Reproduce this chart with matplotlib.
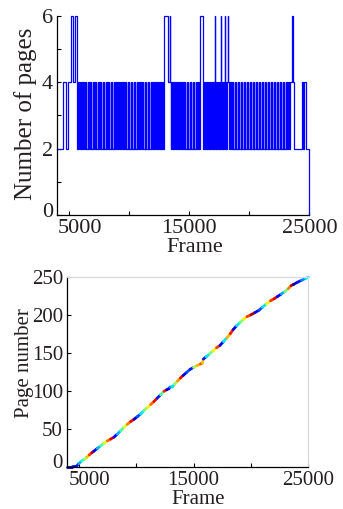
import numpy as np
import matplotlib
matplotlib.use('Agg')
import matplotlib.pyplot as plt
from matplotlib.collections import LineCollection
from matplotlib.transforms import ScaledTranslation

plt.rcParams['font.family'] = ['Liberation Serif', 'DejaVu Serif']
TXT = '#231f20'

# ---- 上段: 表示ページ数 (基準は2ページ) ----
# 4ページになる区間 (開始フレーム, 終了フレーム)
pulse4_start = [4525, 4940,
                5730, 5850, 6010, 6120, 6290, 6400, 6570, 6690, 6850, 6960,
                7120, 7260, 7390, 7540, 7660, 7820, 7930, 8080, 8200, 8330,
                8470, 8580, 8720, 8850, 8980, 9100, 9240, 9360, 9500, 9620,
                9750, 9880, 10000, 10140, 10260, 10390, 10510, 10650, 10770,
                10900, 11030, 11150, 11290, 11410, 11540, 11660, 11800, 11920,
                12050, 12180, 12300, 12430, 12560, 12690, 12830,
                13220,
                13520, 13640, 13770, 13890, 14020, 14150, 14270, 14400, 14520,
                14650, 14780, 14900, 15030, 15160, 15280, 15410, 15540, 15670,
                15800,
                16230, 16350, 16470, 16600, 16720, 16850, 16960, 17090, 17220,
                17340, 17470, 17590, 17720, 17830, 17910, 18050, 18170, 18310,
                18420, 18550, 18660, 18790, 18900, 19040, 19160, 19280, 19410,
                19530, 19660, 19780, 19910, 20030, 20160, 20280, 20410, 20540,
                20650, 20790, 20910, 21030, 21160, 21290, 21400, 21540, 21660,
                21780, 21910, 22040, 22150, 22290, 22410, 22530, 22660, 22790,
                22900, 23040, 23160, 23290, 23420,
                24410, 24560]
pulse4_end = [4750, 5640,
              5755, 5880, 6035, 6150, 6310, 6430, 6595, 6715, 6870, 6990,
              7140, 7290, 7410, 7570, 7680, 7850, 7955, 8110, 8220, 8360,
              8490, 8610, 8740, 8880, 9000, 9130, 9260, 9390, 9520, 9650,
              9770, 9910, 10020, 10170, 10280, 10420, 10530, 10680, 10790,
              10930, 11050, 11180, 11310, 11440, 11560, 11690, 11820, 11950,
              12070, 12210, 12320, 12460, 12580, 12720, 12860,
              13470,
              13540, 13670, 13790, 13920, 14040, 14180, 14290, 14430, 14540,
              14680, 14800, 14930, 15050, 15190, 15300, 15440, 15560, 15700,
              15830,
              16250, 16380, 16490, 16630, 16740, 16880, 16980, 17180, 17240,
              17370, 17490, 17680, 17740, 17850, 18000, 18080, 18280, 18340,
              18440, 18580, 18680, 18820, 18920, 19070, 19180, 19310, 19430,
              19560, 19680, 19810, 19930, 20060, 20180, 20310, 20430, 20570,
              20670, 20820, 20930, 21060, 21180, 21320, 21420, 21570, 21680,
              21810, 21930, 22070, 22170, 22320, 22430, 22560, 22680, 22820,
              22920, 23070, 23180, 23320, 23740,
              24470, 24740]
# 6ページになる区間
pulse6_start = [5170, 5475, 12940, 13400, 15940, 17110, 17610, 17940, 18220, 23560]
pulse6_end = [5310, 5640, 13220, 13440, 16130, 17140, 17640, 17970, 18250, 23630]
first_frame = 4000
last_frame = 25000

# ---- 下段: ページ番号の推移 (フレーム, ページ, 色値) ----
track_frame = [4000, 4450, 4800, 5000, 5250, 5500, 5700, 5920, 6150, 6320,
               6610, 6900, 7200, 7490, 7780, 8070, 8360, 8650, 8940, 9230,
               9520, 9810, 10100, 10390, 10680, 10970, 11260, 11550, 11840,
               12130, 12420, 12650, 12850, 12950, 13150, 13350, 13600, 13850,
               14100, 14400, 14700, 15000, 15300, 15600, 15780, 15850, 16100,
               16400, 16700, 17000, 17300, 17600, 17900, 18200, 18450, 18750,
               19050, 19350, 19650, 20000, 20350, 20700, 21000, 21350, 21700,
               22000, 22300, 22650, 22950, 23250, 23500, 23700, 24050, 24400,
               24750, 25000]
track_page = [0, 0, 0.5, 4, 7.5, 10, 12.5, 15.5, 18.5, 20.5,
              24, 27.5, 31, 34, 36.5, 39, 43, 47.5, 52, 56,
              59.5, 62.5, 66, 69.5, 74, 78, 82, 86, 90.5,
              95, 99.5, 101.5, 103, 105, 105.5, 109, 113, 117,
              120.5, 124.5, 128.5, 131, 133.5, 135.5, 137, 142, 145,
              149, 153, 157, 160, 165, 170, 175.5, 181, 186,
              190.5, 194.5, 198, 200.5, 203.5, 206.5, 210.5, 215, 219,
              221.5, 224.5, 228, 231, 235, 239, 240.5, 243.5, 246,
              248.5, 250]
track_color = [0.05, 0.08, 0.15, 0.3, 0.4, 0.55, 0.7, 0.85, 0.95, 0.12,
               0.3, 0.45, 0.62, 0.8, 0.92, 0.12, 0.3, 0.45, 0.62, 0.78,
               0.9, 0.06, 0.2, 0.35, 0.5, 0.65, 0.8, 0.9, 0.15,
               0.45, 0.88, 0.06, 0.12, 0.28, 0.35, 0.55, 0.75, 0.9,
               0.1, 0.2, 0.15, 0.55, 0.72, 0.82, 0.7, 0.15, 0.35,
               0.5, 0.65, 0.85, 0.1, 0.35, 0.72, 0.88, 0.1, 0.35,
               0.5, 0.65, 0.85, 0.97, 0.1, 0.2, 0.35, 0.65, 0.85,
               0.92, 0.12, 0.3, 0.5, 0.78, 0.95, 0.05, 0.15, 0.25,
               0.35, 0.4]

x_ticks = [5000, 10000, 15000, 20000, 25000]
x_ticklabels = ['5000', '', '15000', '', '25000']


def level_at(f):
    for s, e in zip(pulse6_start, pulse6_end):
        if s <= f < e:
            return 6
    for s, e in zip(pulse4_start, pulse4_end):
        if s <= f < e:
            return 4
    return 2


def shift_label(fig, lbl, dx, dy):
    # 点単位でラベルをずらす
    lbl.set_transform(lbl.get_transform() +
                      ScaledTranslation(dx / 72, dy / 72, fig.dpi_scale_trans))


fig = plt.figure(figsize=(3.43, 5.09), dpi=100)

# ---------------- 上段 ----------------
ax1 = fig.add_axes([0.166, 0.5776, 0.736, 0.391])
edges = sorted(set([first_frame] + pulse4_start + pulse4_end + pulse6_start + pulse6_end))
step_x = edges + [last_frame, last_frame]
step_y = [level_at(f) for f in edges] + [2, 0]
ax1.plot(step_x, step_y, drawstyle='steps-post', color='#0000ff', lw=0.9, clip_on=False)
ax1.set_xlim(4000, 25000)
ax1.set_ylim(0, 6)
ax1.set_xticks(x_ticks)
ax1.set_xticklabels(x_ticklabels)
ax1.set_yticks([0, 1, 2, 3, 4, 5, 6])
ax1.set_yticklabels(['0', '', '2', '', '4', '', '6'])
ax1.tick_params(direction='in', length=3, width=0.8, labelsize=16, colors='black',
                labelcolor=TXT, pad=3)
for s in ['top', 'right']:
    ax1.spines[s].set_visible(False)
for s in ['left', 'bottom']:
    ax1.spines[s].set_linewidth(0.9)
ax1.set_xlabel('Frame', fontsize=16, color=TXT)
ax1.set_ylabel('Number of pages', fontsize=18, color=TXT)
ax1.xaxis.set_label_coords(0.544, -0.115)
ax1.yaxis.set_label_coords(-0.08, 0.51)

# ---------------- 下段 ----------------
ax2 = fig.add_axes([0.196, 0.0831, 0.703, 0.3721])
pts = np.column_stack([track_frame, track_page])
segs = np.stack([pts[:-1], pts[1:]], axis=1)
lc = LineCollection(segs, colors=plt.cm.jet(np.array(track_color[:-1])),
                    linewidths=2.0, capstyle='round', clip_on=False)
ax2.add_collection(lc)
ax2.set_xlim(4000, 25000)
ax2.set_ylim(0, 250)
ax2.set_xticks(x_ticks)
ax2.set_xticklabels(x_ticklabels)
ax2.set_yticks([0, 50, 100, 150, 200, 250])
ax2.tick_params(direction='in', length=3, width=0.8, labelsize=15, colors='black',
                labelcolor=TXT, pad=3)
for s in ['top', 'right']:
    ax2.spines[s].set_color('#d9d9d9')
    ax2.spines[s].set_linewidth(0.9)
for s in ['left', 'bottom']:
    ax2.spines[s].set_linewidth(0.9)
ax2.set_xlabel('Frame', fontsize=15, color=TXT)
ax2.set_ylabel('Page number', fontsize=15, color=TXT)
ax2.xaxis.set_label_coords(0.544, -0.125)
ax2.yaxis.set_label_coords(-0.136, 0.547)

# 手で位置調整されたラベルを再現
shift_label(fig, ax1.get_xticklabels()[0], 7.7, 0)
shift_label(fig, ax1.get_yticklabels()[0], 0, 3.6)
shift_label(fig, ax2.get_xticklabels()[0], 7.9, 0)
shift_label(fig, ax2.get_yticklabels()[0], 0, 4.3)

fig.savefig('out.png', dpi=100, facecolor='white')
